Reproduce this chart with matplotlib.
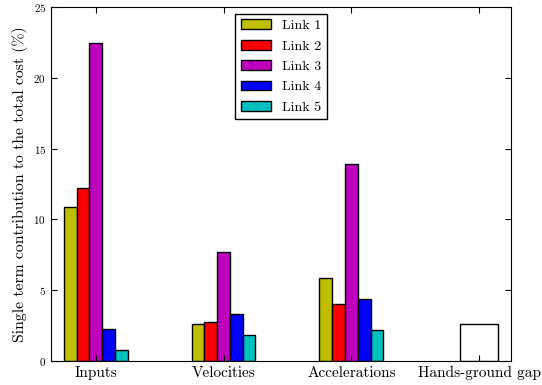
import numpy as np
import matplotlib
matplotlib.use("Agg")
import matplotlib.pyplot as plt

plt.rcParams['font.family'] = ['cmr10', 'DejaVu Serif']
plt.rcParams['mathtext.fontset'] = 'cm'
plt.rcParams['axes.formatter.use_mathtext'] = True

# data
categories = ['Inputs', 'Velocities', 'Accelerations', 'Hands-ground gap']
links = ['Link 1', 'Link 2', 'Link 3', 'Link 4', 'Link 5']
link1 = [10.9, 2.65, 5.9]
link2 = [12.2, 2.75, 4.0]
link3 = [22.45, 7.7, 13.9]
link4 = [2.3, 3.35, 4.37]
link5 = [0.78, 1.82, 2.18]
gap = [2.65]

series = [link1, link2, link3, link4, link5]
colors = [(0.75, 0.75, 0), (1, 0, 0), (0.75, 0, 0.75), (0, 0, 1), (0, 0.75, 0.75)]

fig = plt.figure(figsize=(5.42, 3.85), dpi=100)
ax = fig.add_axes([0.094, 0.062, 0.849, 0.92])

ind = np.arange(3)
width = 0.1
for i, (vals, col, lab) in enumerate(zip(series, colors, links)):
    ax.bar(ind - 2.5 * width + i * width, vals, width, align='edge',
           color=col, edgecolor='black', linewidth=1, label=lab)
ax.bar([3], gap, 0.3, color='white', edgecolor='black', linewidth=1)

ax.set_xlim(-0.35, 3.25)
ax.set_ylim(0, 25)
ax.set_xticks(np.arange(4))
ax.set_xticklabels(categories, fontsize=11)
ax.set_yticks(np.arange(0, 26, 5))
ax.tick_params(axis='y', labelsize=8)
ax.tick_params(direction='in', top=True, right=True, length=4)
ax.set_ylabel('Single term contribution to the total cost (%)', fontsize=11.3)

ax.legend(loc='upper center', fontsize=10, fancybox=False, framealpha=1,
          edgecolor='black', borderaxespad=0.5, handlelength=2.2,
          labelspacing=0.55)

fig.savefig('out.png', dpi=100)
